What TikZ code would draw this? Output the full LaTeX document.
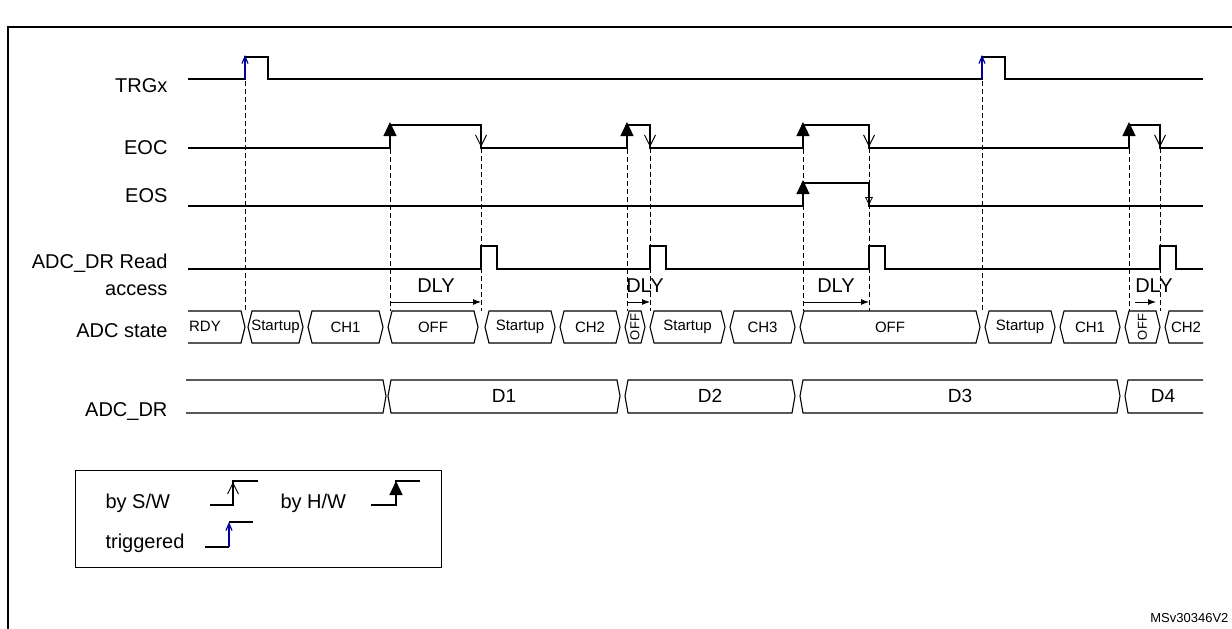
\documentclass[tikz,border=0pt]{standalone}
\usepackage{fontspec}
\setmainfont{Liberation Sans}
\usetikzlibrary{arrows.meta}
\begin{document}
\begin{tikzpicture}[x=1pt,y=-1pt,line width=1.1pt,
  lbl/.style={anchor=east,font=\fontsize{20}{22}\selectfont,inner sep=0},
  st/.style={font=\fontsize{15}{17}\selectfont,inner sep=0},
  dat/.style={font=\fontsize{19}{21}\selectfont,inner sep=0},
  dl/.style={font=\fontsize{20}{22}\selectfont,inner sep=0},
  dsh/.style={dash pattern=on 5pt off 3pt,line width=0.8pt},
  hw/.style={-{Triangle[length=14pt,width=13pt]}},
  sw/.style={-{Straight Barb[length=11pt,width=11pt,line width=1pt]}},
  tr/.style={draw=blue!60!black,line width=1.2pt,-{Straight Barb[length=7pt,width=6pt]}},
  dlyarr/.style={-{Latex[length=8pt,width=6pt]},line width=0.9pt}]
\useasboundingbox (0,0) rectangle (1232,629);
\draw[line width=2pt] (8,629) -- (8,27) -- (1232,27);
% labels
\node[lbl] (l1) at (168,86) {TRGx};
\node[lbl] (l2) at (168,148) {EOC};
\node[lbl] (l3) at (168,196) {EOS};
\node[lbl] (l4) at (168,263) {ADC\_DR Read};
\node[lbl] (l5) at (168,290) {access};
\node[lbl] (l6) at (168,331) {ADC state};
\node[lbl] (l7) at (168,412) {ADC\_DR};
% dashed lines
\foreach \x/\a/\b in {245/57/311,390/125/311,481/148/311,627/125/311,650/148/311,803/125/311,869/148/311,982/57/311,1129/125/311,1160/148/311}
  \draw[dsh] (\x,\a) -- (\x,\b);
% TRGx
\draw (188,79) -- (245,79) -- (245,57) -- (268,57) -- (268,79) -- (982,79) -- (982,57) -- (1005,57) -- (1005,79) -- (1203,79);
\draw[tr] (245,79) -- (245,55);
\draw[tr] (982,79) -- (982,55);
% EOC
\draw (188,148) -- (390,148) -- (390,125) -- (481,125) -- (481,148) -- (627,148) -- (627,125) -- (650,125) -- (650,148) -- (803,148) -- (803,125) -- (869,125) -- (869,148) -- (1129,148) -- (1129,125) -- (1160,125) -- (1160,148) -- (1203,148);
\foreach \x in {390,627,803,1129} \draw[hw] (\x,142) -- (\x,122);
\foreach \x in {481,650,869,1160} \draw[sw] (\x,126) -- (\x,147);
% EOS
\draw (188,206) -- (803,206) -- (803,183) -- (869,183) -- (869,206) -- (1203,206);
\draw[hw] (803,200) -- (803,180);
\draw[-{Triangle[open,length=8pt,width=8pt]},line width=0.8pt] (869,185) -- (869,205);
% ADC_DR read
\draw (188,269) -- (481,269) -- (481,246) -- (497,246) -- (497,269) -- (650,269) -- (650,246) -- (666,246) -- (666,269) -- (869,269) -- (869,246) -- (885,246) -- (885,269) -- (1160,269) -- (1160,246) -- (1176,246) -- (1176,269) -- (1203,269);
% DLY
\foreach \a/\b/\c in {390/481/436,627/650/645,803/869/836,1135/1156/1154}{
  \draw[dlyarr] (\a,302) -- (\b,302);
  \node[dl] at (\c,286) {DLY};}
% ADC state
\draw (188,311) -- (241,311) -- (245,327) -- (241,343) -- (188,343);
\node[st] (s0) at (205,326) {RDY};
\foreach \a/\b/\t [count=\i] in {248/303/Startup,308/383/CH1,388/478/OFF,485/555/Startup,560/620/CH2,650/725/Startup,730/795/CH3,800/980/OFF,985/1055/Startup,1060/1120/CH1}{
  \draw (\a,327) -- (\a+4,311) -- (\b-4,311) -- (\b,327) -- (\b-4,343) -- (\a+4,343) -- cycle;
  \node[st] (s\i) at ({(\a+\b)/2},327) {\t};}
\foreach \a/\b [count=\i] in {625/645,1125/1160}{
  \draw (\a,327) -- (\a+4,311) -- (\b-4,311) -- (\b,327) -- (\b-4,343) -- (\a+4,343) -- cycle;
  \node[st,font=\fontsize{13}{15}\selectfont,rotate=90] (o\i) at ({(\a+\b)/2},327) {OFF};}
\draw (1203,311) -- (1169,311) -- (1165,327) -- (1169,343) -- (1203,343);
\node[st] (s11) at (1186,327) {CH2};
% ADC_DR bus
\draw (186,380) -- (383,380) -- (386,396) -- (383,413) -- (186,413);
\foreach \a/\b/\t [count=\i] in {388/620/D1,625/795/D2,800/1120/D3}{
  \draw (\a,396) -- (\a+3,380) -- (\b-3,380) -- (\b,396) -- (\b-3,413) -- (\a+3,413) -- cycle;
  \node[dat] (d\i) at ({(\a+\b)/2},396) {\t};}
\draw (1203,380) -- (1128,380) -- (1125,396) -- (1128,413) -- (1203,413);
\node[dat] (d4) at (1163,396) {D4};
% legend
\draw[line width=0.9pt] (75,470) rectangle (441,567);
\node[dl,anchor=west] (g1) at (105,503) {by S/W};
\node[dl,anchor=west] (g2) at (280,503) {by H/W};
\node[dl,anchor=west] (g3) at (105,543) {triggered};
\draw (210,505) -- (233,505) -- (233,481) -- (258,481);
\draw[sw] (233,504) -- (233,482);
\draw (371,505) -- (396,505) -- (396,481) -- (420,481);
\draw[hw] (396,500) -- (396,481);
\draw (205,547) -- (229,547) (229,522) -- (253,522);
\draw[tr] (229,547) -- (229,522);
\node[font=\fontsize{13}{15}\selectfont,anchor=east,inner sep=0] (ms) at (1229,618) {MSv30346V2};
\end{tikzpicture}
\end{document}
